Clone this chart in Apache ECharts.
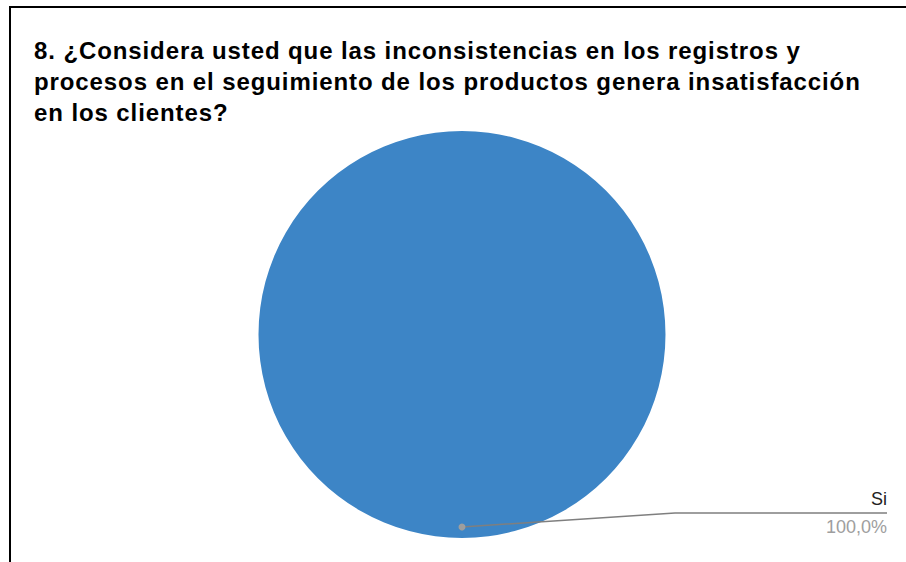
<!DOCTYPE html>
<html>
<head>
<meta charset="utf-8">
<script src="https://cdn.jsdelivr.net/npm/echarts@6/dist/echarts.min.js"></script>
<style>
  html, body { margin: 0; padding: 0; background: #fff; }
  #chart { width: 906px; height: 562px; }
  /* the heading is set with a little extra tracking */
  #chart svg text[style*="bold"] { letter-spacing: 0.9px; }
</style>
</head>
<body>
<div id="chart"></div>
<script>
// Survey question 8: answers and counts
const titleLines = [
  '8. ¿Considera usted que las inconsistencias en los registros y',
  'procesos en el seguimiento de los productos genera insatisfacción',
  'en los clientes?'
];
const categories = ['Si'];
const values = [100];

const pieCenter = [462, 334.5];
const pieRadius = 203.5;
const font = 'Liberation Sans, Arial, sans-serif';

const chart = echarts.init(document.getElementById('chart'), null, { renderer: 'svg' });

const pieData = categories.map((name, i) => ({ name, value: values[i] }));

const option = {
  animation: false,
  backgroundColor: '#ffffff',
  title: {
    text: titleLines.join('\n'),
    left: 29,
    top: 29.5,
    textStyle: {
      fontFamily: font,
      fontWeight: 'bold',
      fontSize: 24,
      lineHeight: 31,
      color: '#000000'
    }
  },
  graphic: [
    {
      type: 'rect',
      shape: { x: 10, y: 7, width: 1000, height: 1000 },
      style: { fill: 'none', stroke: '#000000', lineWidth: 2 },
      silent: true
    },
    {
      type: 'circle',
      shape: { cx: pieCenter[0], cy: pieCenter[1] + pieRadius - 11, r: 3.5 },
      style: { fill: '#9e9e9e' },
      z: 10,
      silent: true
    }
  ],
  series: [
    {
      // the filled slices
      type: 'pie',
      center: pieCenter,
      radius: pieRadius,
      startAngle: 90,
      silent: true,
      itemStyle: { color: '#3d85c6' },
      label: { show: false },
      labelLine: { show: false },
      data: pieData
    },
    {
      // same slices, transparent, carrying the callout so it sits above the fill
      type: 'pie',
      z: 5,
      center: pieCenter,
      radius: pieRadius,
      startAngle: 90,
      silent: true,
      itemStyle: { color: 'rgba(0,0,0,0)' },
      data: pieData,
      label: {
        show: true,
        formatter: p => '{n|' + p.name + '}\n{p|' + p.percent.toFixed(1).replace('.', ',') + '%}',
        rich: {
          n: { fontFamily: font, fontSize: 18, color: '#222222', lineHeight: 28, align: 'right' },
          p: { fontFamily: font, fontSize: 18, color: '#9e9e9e', lineHeight: 28, align: 'right' }
        }
      },
      labelLine: {
        show: true,
        lineStyle: { color: '#7f7f7f', width: 1.5 }
      },
      labelLayout: function (params) {
        const r = params.rect;
        const cx = r.x + r.width / 2;
        const bottom = r.y + r.height;
        const endX = chart.getWidth() - 19;
        const lineY = bottom - 25;
        return {
          x: endX,
          y: lineY,
          align: 'right',
          verticalAlign: 'middle',
          labelLinePoints: [[cx, bottom - 11], [cx + 213, lineY], [endX, lineY]]
        };
      }
    }
  ]
};

chart.setOption(option);
</script>
</body>
</html>
